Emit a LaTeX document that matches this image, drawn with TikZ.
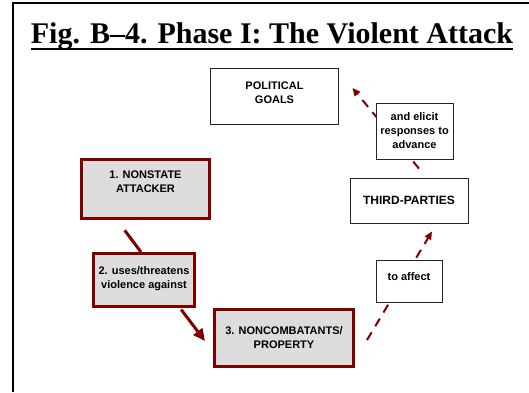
\documentclass[tikz,border=0pt]{standalone}
\usepackage{fontspec}
\setmainfont{Liberation Sans}
\newfontfamily\titlefont{Liberation Serif}
\usetikzlibrary{arrows.meta, positioning, calc}
\definecolor{darkred}{RGB}{128,0,0}
\definecolor{boxgray}{RGB}{221,221,221}
\tikzset{
    phasediagram/.style={x=1pt, y=-1pt, font=\fontsize{11}{14}\selectfont\bfseries},
    actorbox/.style={draw=darkred, line width=3pt, fill=boxgray, align=center, inner sep=0pt},
    notebox/.style={draw=black!85, line width=0.9pt, fill=white, align=center, inner sep=0pt},
    solidlink/.style={draw=darkred, line width=3pt},
    dashlink/.style={draw=darkred, line width=2pt, dash pattern=on 9pt off 7pt,
        -{Triangle[length=8pt, width=7pt]}},
}

\begin{document}
\begin{tikzpicture}[phasediagram]
    \useasboundingbox (0,0) rectangle (529,392);
    % frame and title
    \draw[line width=1.5pt] (13,392) -- (13,3) -- (529,3);
    \node[anchor=base, inner sep=0pt, font=\titlefont\bfseries\fontsize{30}{36}\selectfont] (title) at (272,43) {Fig. B–4. Phase I: The Violent Attack};
    \draw[line width=2pt] ($(title.base west)+(0,6)$) -- ($(title.base east)+(0,6)$);

    \node[notebox, minimum width=128pt, minimum height=56pt, text depth=8pt] (goals) at (274.5,96.5) {POLITICAL\\GOALS};
    \node[notebox, minimum width=118pt, minimum height=45pt, font=\fontsize{12}{14}\selectfont\bfseries] (third) at (409,200.5) {THIRD-PARTIES};
    \node[actorbox, minimum width=128pt, minimum height=59pt, text depth=14pt] (attacker) at (145.5,189) {1. NONSTATE\\ATTACKER};
    \node[actorbox, minimum width=101pt, minimum height=53pt, text depth=5pt] (uses) at (144,280) {2. uses/threatens\\violence against};
    \node[actorbox, minimum width=139pt, minimum height=57pt] (noncomb) at (284,338) {3. NONCOMBATANTS/\\PROPERTY};

    \draw[solidlink, shorten <=12.8pt] ($(attacker.south)+(-28.5,0)$) -- ($(uses.north)+(-3,0)$);
    \draw[solidlink, -{Triangle[length=12pt, width=11pt]}, shorten <=2pt] ($(uses.south)+(36,0)$) -- ($(noncomb.west)+(-8,3)$);

    % dashed links, notes drawn over them
    \draw[dashlink] ($(noncomb.east)+(12,2)$) -- ($(third.south)+(23,8)$);
    \draw[dashlink] ($(third.north)+(10,-9)$) -- ($(goals.east)+(13.5,-8.5)$);
    \node[notebox, minimum width=66pt, minimum height=42pt, text depth=8pt] (affect) at (409,281) {to affect};
    \node[notebox, minimum width=77pt, minimum height=56pt] (elicit) at (414.5,131) {and elicit\\responses to\\advance};
\end{tikzpicture}
\end{document}
